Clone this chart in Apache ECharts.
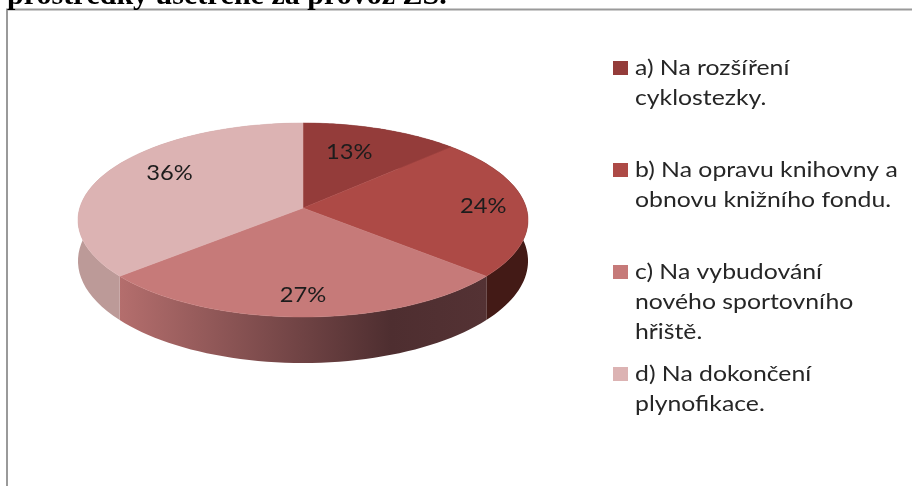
<!DOCTYPE html>
<html>
<head>
<meta charset="utf-8">
<title>Graf</title>
<script src="https://cdn.jsdelivr.net/npm/echarts@6/dist/echarts.min.js"></script>
<style>
    html, body { margin: 0; padding: 0; background: #fff; }
    #chart { width: 912px; height: 486px; }
</style>
</head>
<body>
<div id="chart"></div>
<script>
    var titleText = 'prostředky ušetřené za provoz ZŠ.';
    var categories = [
        'a) Na rozšíření\ncyklostezky.',
        'b) Na opravu knihovny a\nobnovu knižního fondu.',
        'c) Na vybudování\nnového sportovního\nhřiště.',
        'd) Na dokončení\nplynofikace.'
    ];
    var shareValues = [12.8, 23.6, 27.2, 36.4];

    // styles and layout, apart from the data
    var faceColors = ['#943c3a', '#ad4a46', '#c67a79', '#dcb3b3'];
    var legendTops = [61, 163, 265, 367];
    var labelReach = [[0.59, 0.71], [0.81, 0.81], [0.8, 0.8], [0.69, 0.92]];
    var textFont = 'Lato, "Noto Sans", sans-serif';

    function wallFill(i) {
        if (i === 2) {
            return new echarts.graphic.LinearGradient(0, 0, 1, 0, [
                { offset: 0, color: '#b46e6d' },
                { offset: 0.74, color: '#4e2e30' },
                { offset: 1, color: '#543234' }
            ]);
        }
        return ['#5c2624', '#431a16', '#5c3230', '#bc9a98'][i];
    }

    // tilted pie: rim point for a percentage, with a little perspective
    var total = shareValues.reduce(function (a, b) { return a + b; }, 0);
    var apex = [303, 208], spanX = 223.3, spanY = 95.5, persp = 0.1237, depth = 40.3;

    function rim(pct, reachX, reachY) {
        var t = pct / total * Math.PI * 2;
        var d = 1 + persp * Math.cos(t);
        return [
            apex[0] + reachX * spanX * Math.sin(t) / d,
            apex[1] - reachY * spanY * Math.cos(t) / d,
            depth / d
        ];
    }

    function renderSlice(params, api) {
        var i = params.dataIndex;
        var value = api.value(0);
        var start = shareValues.slice(0, i).reduce(function (a, b) { return a + b; }, 0);
        var top = [], bottom = [];
        for (var s = 0; s <= 48; s++) {
            var p = rim(start + value * s / 48, 1, 1);
            top.push([p[0], p[1]]);
            bottom.unshift([p[0], p[1] + p[2]]);
        }
        var mid = rim(start + value / 2, labelReach[i][0], labelReach[i][1]);
        return {
            type: 'group',
            children: [
                {
                    type: 'polygon', z2: 1,
                    shape: { points: top.concat(bottom) },
                    style: { fill: wallFill(i) }
                },
                {
                    type: 'polygon', z2: 2,
                    shape: { points: [apex].concat(top) },
                    style: { fill: faceColors[i], stroke: faceColors[i], lineWidth: 0.5 }
                },
                {
                    type: 'text', z2: 3,
                    x: mid[0], y: mid[1], scaleX: 1.13,
                    style: {
                        text: Math.round(value) + '%',
                        align: 'center', verticalAlign: 'middle',
                        fill: '#1c1c1c', font: '21px ' + textFont
                    }
                }
            ]
        };
    }

    var legendItems = [];
    categories.forEach(function (name, i) {
        legendItems.push({
            type: 'rect', left: 613, top: legendTops[i],
            shape: { width: 15, height: 14 },
            style: { fill: faceColors[i] }
        });
        legendItems.push({
            type: 'text', x: 635, y: legendTops[i] - 8, scaleX: 1.18,
            style: { text: name, fill: '#262626', font: '21px ' + textFont, lineHeight: 30 }
        });
    });

    var myChart = echarts.init(document.getElementById('chart'));
    myChart.setOption({
        animation: false,
        backgroundColor: '#fff',
        title: {
            text: titleText,
            left: 7,
            top: -19,
            padding: 0,
            textStyle: { fontFamily: '"Liberation Serif", serif', fontSize: 30, fontWeight: 'bold', color: '#000' }
        },
        graphic: [
            {
                type: 'rect', silent: true, z: -1,
                shape: { x: 7, y: 9.5, width: 1000, height: 600 },
                style: { fill: 'none', stroke: '#9a9a9a', lineWidth: 2 }
            }
        ].concat(legendItems),
        series: [
            {
                type: 'custom',
                coordinateSystem: 'none',
                renderItem: renderSlice,
                data: shareValues
            }
        ]
    });
</script>
</body>
</html>
